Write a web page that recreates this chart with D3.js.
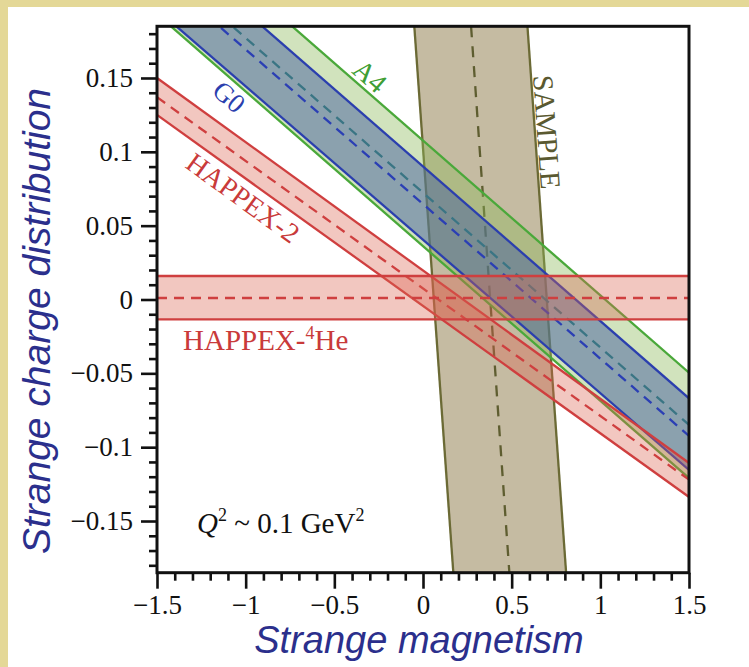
<!DOCTYPE html>
<html><head><meta charset="utf-8">
<script src="https://cdn.jsdelivr.net/npm/d3@7"></script>
<style>
html,body{margin:0;padding:0;background:#fff;}
svg{display:block;}
</style></head>
<body>
<script>
// ---- Data (data units: x = strange magnetism G_M^s, y = strange charge G_E^s) ----
const xDomain = [-1.5, 1.5];
const yDomain = [-0.185, 0.185];
const xTickValues = [-1.5, -1, -0.5, 0, 0.5, 1, 1.5];
const xTickLabels = ["\u22121.5", "\u22121", "\u22120.5", "0", "0.5", "1", "1.5"];
const yTickValues = [0.15, 0.1, 0.05, 0, -0.05, -0.1, -0.15];
const yTickLabels = ["0.15", "0.1", "0.05", "0", "\u22120.05", "\u22120.1", "\u22120.15"];

// diagonal bands: G_E value at G_M = -1.5 and G_M = 1.5
const gmEnds = [-1.5, 1.5];
const a4Lower = [0.1932, -0.1209], a4Center = [0.2295, -0.0849], a4Upper = [0.2649, -0.0496];
const g0Lower = [0.1963, -0.1154], g0Center = [0.2217, -0.0924], g0Upper = [0.2471, -0.0669];
const h2Lower = [0.125, -0.1337], h2Center = [0.137, -0.122], h2Upper = [0.150, -0.1107];
const heLower = [-0.0135, -0.0135], heCenter = [0.001, 0.001], heUpper = [0.0159, 0.0159];
// SAMPLE band: G_M value at G_E = 0.185 and G_E = -0.185
const sampleGE = [0.185, -0.185];
const sampleLeft = [-0.049, 0.171], sampleCenter = [0.271, 0.487], sampleRight = [0.589, 0.807];

const W = 749, H = 667;
const svg = d3.select("body").append("svg").attr("width", W).attr("height", H);
svg.append("rect").attr("width", W).attr("height", H).attr("fill", "#e4d897");
svg.append("rect").attr("x", 8).attr("y", 7).attr("width", W - 8).attr("height", H - 7).attr("fill", "#fff");

const x = d3.scaleLinear().domain(xDomain).range([157, 689]);
const y = d3.scaleLinear().domain(yDomain).range([572.7, 26.3]);

const defs = svg.append("defs");
defs.append("clipPath").attr("id", "clip").append("rect")
  .attr("x", x(xDomain[0])).attr("y", y(yDomain[1]))
  .attr("width", x(xDomain[1]) - x(xDomain[0])).attr("height", y(yDomain[0]) - y(yDomain[1]));

const plot = svg.append("g").attr("clip-path", "url(#clip)");
const line = d3.line().x(d => x(d[0])).y(d => y(d[1]));

function diagBand(lower, center, upper, fill, stroke, dashStroke) {
  const poly = [[gmEnds[0], lower[0]], [gmEnds[1], lower[1]], [gmEnds[1], upper[1]], [gmEnds[0], upper[0]]];
  plot.append("path").attr("d", line(poly) + "Z").attr("fill", fill).attr("stroke", "none");
  [lower, upper].forEach(l => plot.append("path")
    .attr("d", line([[gmEnds[0], l[0]], [gmEnds[1], l[1]]]))
    .attr("fill", "none").attr("stroke", stroke).attr("stroke-width", 2.3));
  plot.append("path").attr("d", line([[gmEnds[0], center[0]], [gmEnds[1], center[1]]]))
    .attr("fill", "none").attr("stroke", dashStroke).attr("stroke-width", 2.3)
    .attr("stroke-dasharray", "10,7");
}

// SAMPLE
{
  const poly = [[sampleLeft[0], sampleGE[0]], [sampleLeft[1], sampleGE[1]], [sampleRight[1], sampleGE[1]], [sampleRight[0], sampleGE[0]]];
  plot.append("path").attr("d", line(poly) + "Z").attr("fill", "rgba(140,120,70,0.5)");
  [sampleLeft, sampleRight].forEach(l => plot.append("path")
    .attr("d", line([[l[0], sampleGE[0]], [l[1], sampleGE[1]]]))
    .attr("fill", "none").attr("stroke", "#6b6a35").attr("stroke-width", 2.3));
  plot.append("path").attr("d", line([[sampleCenter[0], sampleGE[0]], [sampleCenter[1], sampleGE[1]]]))
    .attr("fill", "none").attr("stroke", "#5e5d30").attr("stroke-width", 2.3).attr("stroke-dasharray", "11,9");
}
diagBand(a4Lower, a4Center, a4Upper, "rgba(140,185,90,0.4)", "#4aa83a", "#2f8a68");
diagBand(g0Lower, g0Center, g0Upper, "rgba(70,95,160,0.5)", "#2b3fae", "#2b3fb4");
diagBand(h2Lower, h2Center, h2Upper, "rgba(220,100,80,0.36)", "#cf3f3f", "#cf3f3f");
diagBand(heLower, heCenter, heUpper, "rgba(220,100,80,0.36)", "#cf3f3f", "#cf3f3f");

// ---- Axes ----
const yMinor = d3.range(-18, 19).map(k => k / 100).filter(v => Math.abs(Math.round(v * 100) % 5) !== 0);
const xMinor = d3.range(-15, 16).map(k => k / 10).filter(v => Math.abs(Math.round(v * 10) % 5) !== 0);

const yAxisMinor = svg.append("g").attr("transform", `translate(${x(xDomain[0])},0)`)
  .call(d3.axisLeft(y).tickValues(yMinor).tickSize(8).tickFormat(""));
const yAxis = svg.append("g").attr("transform", `translate(${x(xDomain[0])},0)`)
  .call(d3.axisLeft(y).tickValues(yTickValues).tickSize(16).tickPadding(8)
    .tickFormat((d, i) => yTickLabels[i]));
const xAxisMinor = svg.append("g").attr("transform", `translate(0,${y(yDomain[0])})`)
  .call(d3.axisBottom(x).tickValues(xMinor).tickSize(8).tickFormat(""));
const xAxis = svg.append("g").attr("transform", `translate(0,${y(yDomain[0])})`)
  .call(d3.axisBottom(x).tickValues(xTickValues).tickSize(16).tickPadding(6)
    .tickFormat((d, i) => xTickLabels[i]));
[yAxisMinor, yAxis, xAxisMinor, xAxis].forEach(g => {
  g.select(".domain").remove();
  g.selectAll(".tick line").attr("stroke", "#111").attr("stroke-width", 2.6);
  g.selectAll("text").attr("font-family", "Liberation Serif, serif").attr("font-size", 27).attr("fill", "#111");
});

svg.append("rect").attr("x", x(xDomain[0])).attr("y", y(yDomain[1]))
  .attr("width", x(xDomain[1]) - x(xDomain[0])).attr("height", y(yDomain[0]) - y(yDomain[1]))
  .attr("fill", "none").attr("stroke", "#111").attr("stroke-width", 3);

// ---- Annotations ----
const serif = "Liberation Serif, serif";
function rotLabel(txt, cx, cy, angle, color, size) {
  svg.append("text").attr("transform", `translate(${cx},${cy}) rotate(${angle})`)
    .attr("text-anchor", "middle").attr("dominant-baseline", "central")
    .attr("font-family", serif).attr("font-size", size).attr("fill", color).text(txt);
}
rotLabel("A4", 370, 76, 41, "#3e9e34", 28);
rotLabel("G0", 229, 97, 41, "#2b3fae", 27);
rotLabel("HAPPEX-2", 243, 198, 36, "#c93a3a", 28);
rotLabel("SAMPLE", 547, 132, 86, "#5a5930", 29);

const he = svg.append("text").attr("x", 183).attr("y", 350)
  .attr("font-family", serif).attr("font-size", 29).attr("fill", "#c93a3a");
he.append("tspan").text("HAPPEX-");
he.append("tspan").attr("font-size", 18).attr("dy", -11).text("4");
he.append("tspan").attr("dy", 11).text("He");

const q = svg.append("text").attr("x", 197).attr("y", 533)
  .attr("font-family", serif).attr("font-size", 29).attr("fill", "#111");
q.append("tspan").attr("font-style", "italic").text("Q");
q.append("tspan").attr("font-size", 18).attr("dy", -12).text("2");
q.append("tspan").attr("dy", 12).text(" ~ 0.1 GeV");
q.append("tspan").attr("font-size", 18).attr("dy", -12).text("2");

// ---- Axis titles ----
svg.append("text").attr("x", 419).attr("y", 653).attr("text-anchor", "middle")
  .attr("font-family", "Liberation Sans, Arial, sans-serif").attr("font-style", "italic")
  .attr("font-size", 38).attr("fill", "#2b2f8c").text("Strange magnetism");
svg.append("text").attr("transform", "translate(50,321) rotate(-90)").attr("text-anchor", "middle")
  .attr("font-family", "Liberation Sans, Arial, sans-serif").attr("font-style", "italic")
  .attr("font-size", 39).attr("fill", "#2b2f8c").text("Strange charge distribution");
</script>
</body></html>
